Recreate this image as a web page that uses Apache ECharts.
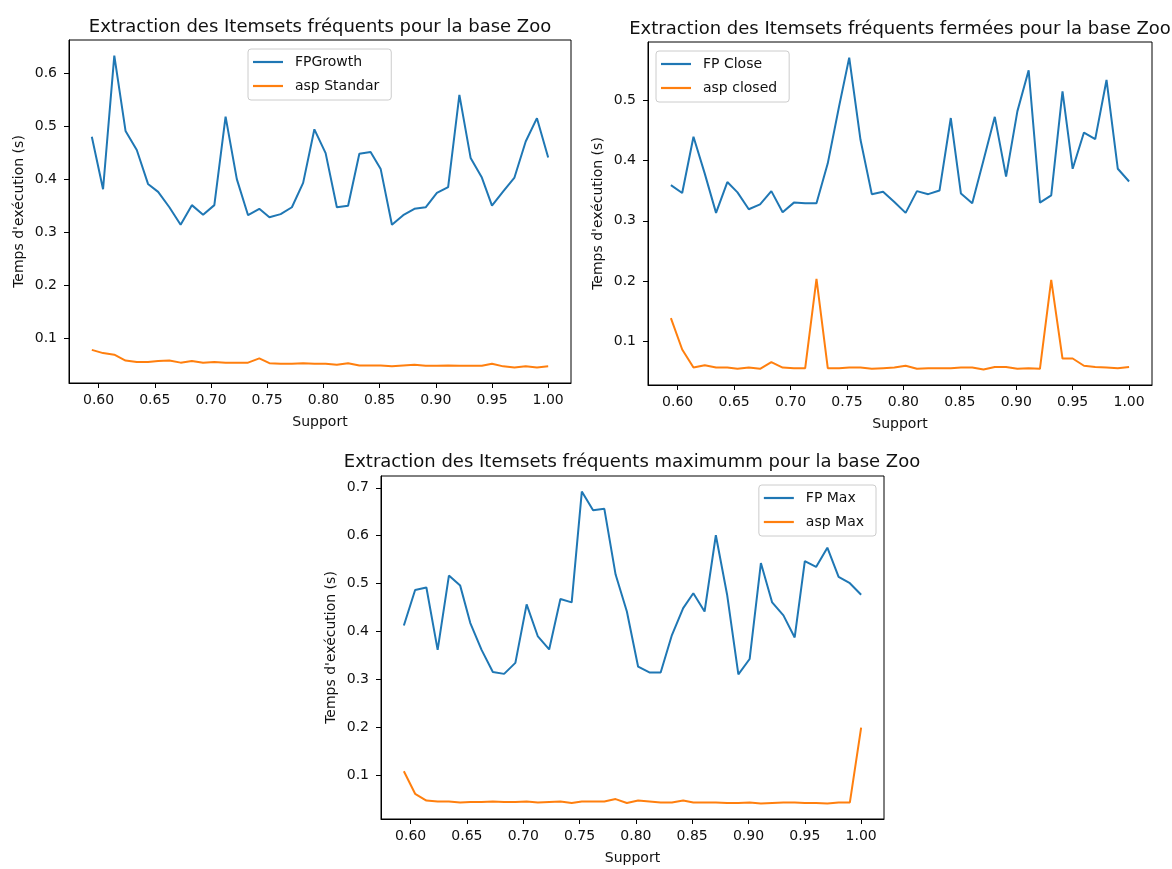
<!DOCTYPE html>
<html>
<head>
<meta charset="utf-8">
<script src="https://cdn.jsdelivr.net/npm/echarts@6/dist/echarts.min.js"></script>
<style>
html,body{margin:0;padding:0;background:#fff;}
#chart{width:1172px;height:869px;}
</style>
</head>
<body>
<div id="chart"></div>
<script>
// ---- Data ----
const support = [0.594, 0.604, 0.614, 0.624, 0.634, 0.644, 0.653, 0.663, 0.673, 0.683,
  0.693, 0.703, 0.713, 0.723, 0.733, 0.743, 0.752, 0.762, 0.772, 0.782,
  0.792, 0.802, 0.812, 0.822, 0.832, 0.842, 0.851, 0.861, 0.871, 0.881,
  0.891, 0.901, 0.911, 0.921, 0.931, 0.941, 0.950, 0.960, 0.970, 0.980,
  0.990, 1.000];

const fpGrowth = [0.480, 0.381, 0.633, 0.491, 0.455, 0.391, 0.376, 0.347, 0.314, 0.351,
  0.333, 0.351, 0.518, 0.400, 0.332, 0.344, 0.328, 0.334, 0.347, 0.393,
  0.494, 0.449, 0.347, 0.350, 0.448, 0.451, 0.419, 0.314, 0.332, 0.344,
  0.347, 0.374, 0.385, 0.559, 0.440, 0.403, 0.350, 0.377, 0.403, 0.471,
  0.515, 0.441];
const aspStandar = [0.078, 0.072, 0.069, 0.058, 0.055, 0.055, 0.057, 0.058, 0.054, 0.057,
  0.054, 0.055, 0.054, 0.054, 0.054, 0.062, 0.053, 0.052, 0.052, 0.053,
  0.052, 0.052, 0.050, 0.053, 0.0485, 0.0485, 0.0485, 0.047, 0.0485, 0.050,
  0.048, 0.048, 0.0485, 0.048, 0.048, 0.048, 0.052, 0.047, 0.045, 0.047,
  0.045, 0.047];

const fpClose = [0.359, 0.346, 0.439, 0.378, 0.313, 0.364, 0.347, 0.319, 0.327, 0.349,
  0.314, 0.330, 0.329, 0.329, 0.395, 0.489, 0.570, 0.434, 0.344, 0.348,
  0.331, 0.313, 0.349, 0.344, 0.350, 0.470, 0.345, 0.329, 0.400, 0.472,
  0.373, 0.481, 0.549, 0.330, 0.342, 0.514, 0.386, 0.446, 0.435, 0.533,
  0.386, 0.365];
const aspClosed = [0.139, 0.087, 0.057, 0.061, 0.057, 0.057, 0.055, 0.057, 0.055, 0.066,
  0.057, 0.056, 0.056, 0.204, 0.056, 0.056, 0.057, 0.057, 0.055, 0.056,
  0.057, 0.060, 0.055, 0.056, 0.056, 0.056, 0.057, 0.057, 0.054, 0.058,
  0.058, 0.055, 0.056, 0.055, 0.202, 0.072, 0.072, 0.060, 0.058, 0.057,
  0.056, 0.058];

const fpMax = [0.413, 0.487, 0.492, 0.362, 0.517, 0.496, 0.418, 0.362, 0.316, 0.312,
  0.335, 0.457, 0.390, 0.363, 0.468, 0.461, 0.692, 0.653, 0.656, 0.519,
  0.442, 0.327, 0.315, 0.315, 0.393, 0.449, 0.480, 0.442, 0.601, 0.477,
  0.311, 0.343, 0.543, 0.461, 0.434, 0.388, 0.547, 0.535, 0.575, 0.514,
  0.501, 0.477];
const aspMax = [0.109, 0.062, 0.048, 0.046, 0.046, 0.044, 0.045, 0.045, 0.046, 0.045,
  0.045, 0.046, 0.044, 0.045, 0.046, 0.043, 0.046, 0.046, 0.046, 0.051,
  0.043, 0.048, 0.046, 0.044, 0.044, 0.048, 0.044, 0.044, 0.044, 0.043,
  0.043, 0.044, 0.042, 0.043, 0.044, 0.044, 0.043, 0.043, 0.042, 0.044,
  0.044, 0.200];

const xTicks = [0.60, 0.65, 0.70, 0.75, 0.80, 0.85, 0.90, 0.95, 1.00];
const yTicks1 = [0.1, 0.2, 0.3, 0.4, 0.5, 0.6];
const yTicks2 = [0.1, 0.2, 0.3, 0.4, 0.5];
const yTicks3 = [0.1, 0.2, 0.3, 0.4, 0.5, 0.6, 0.7];

const titles = [
  'Extraction des Itemsets fréquents pour la base Zoo',
  'Extraction des Itemsets fréquents fermées pour la base Zoo',
  'Extraction des Itemsets fréquents maximumm pour la base Zoo'
];
const names = [['FPGrowth', 'asp Standar'], ['FP Close', 'asp closed'], ['FP Max', 'asp Max']];

// ---- Build chart ----
const FONT = 'DejaVu Sans';
const TXT = '#111';
const BLUE = '#1f77b4', ORANGE = '#ff7f0e';

function pad(arrs) {
  let lo = Infinity, hi = -Infinity;
  arrs.forEach(a => a.forEach(v => { lo = Math.min(lo, v); hi = Math.max(hi, v); }));
  const m = (hi - lo) * 0.05;
  return [lo - m, hi + m];
}
const xr = pad([support]);
const yr = [pad([fpGrowth, aspStandar]), pad([fpClose, aspClosed]), pad([fpMax, aspMax])];
const yTicks = [yTicks1, yTicks2, yTicks3];

const grids = [
  {left: 69, top: 40, width: 502, height: 343},
  {left: 648, top: 42, width: 504, height: 343},
  {left: 381, top: 476, width: 503, height: 343}
];

const option = {
  animation: false,
  backgroundColor: '#fff',
  textStyle: {fontFamily: FONT},
  title: [
    {text: titles[0], left: 320, top: 18, textAlign: 'center'},
    {text: titles[1], left: 900, top: 20, textAlign: 'center'},
    {text: titles[2], left: 632, top: 453, textAlign: 'center'}
  ].map(t => Object.assign(t, {padding: 0, textStyle: {fontFamily: FONT, fontSize: 18, fontWeight: 'normal', color: TXT}})),
  grid: grids.map(g => Object.assign({show: true, borderColor: '#000', borderWidth: 1, containLabel: false}, g)),
  xAxis: [0, 1, 2].map(i => ({
    type: 'value', gridIndex: i, min: xr[0], max: xr[1],
    name: 'Support', nameLocation: 'middle', nameGap: 32,
    nameTextStyle: {fontFamily: FONT, fontSize: 14, color: TXT},
    axisLine: {show: true, lineStyle: {color: '#000', width: 1}},
    axisTick: {show: true, length: 5, lineStyle: {color: '#000'}, customValues: xTicks},
    axisLabel: {fontFamily: FONT, fontSize: 14, color: TXT, margin: 10, customValues: xTicks,
      formatter: v => v.toFixed(2)},
    splitLine: {show: false}
  })),
  yAxis: [0, 1, 2].map(i => ({
    type: 'value', gridIndex: i, min: yr[i][0], max: yr[i][1],
    name: "Temps d'exécution (s)", nameLocation: 'middle', nameGap: 43,
    nameTextStyle: {fontFamily: FONT, fontSize: 14, color: TXT},
    axisLine: {show: true, lineStyle: {color: '#000', width: 1}},
    axisTick: {show: true, length: 5, lineStyle: {color: '#000'}, customValues: yTicks[i]},
    axisLabel: {fontFamily: FONT, fontSize: 14, color: TXT, margin: 12, customValues: yTicks[i],
      formatter: v => String(+v.toFixed(1))},
    splitLine: {show: false}
  })),
  legend: [
    {left: 248, top: 49},
    {left: 656, top: 51},
    {right: 296, top: 485}
  ].map((l, i) => Object.assign(l, {
    data: names[i].map(n => ({name: n, icon: 'rect'})), orient: 'vertical',
    itemWidth: 30, itemHeight: 2.2, itemGap: 8,
    padding: [5, 12, 6, 5],
    backgroundColor: 'rgba(255,255,255,0.8)',
    borderColor: '#cccccc', borderWidth: 1, borderRadius: 3,
    textStyle: {fontFamily: FONT, fontSize: 14, color: TXT, lineHeight: 16, padding: [0, 0, 0, 7]}
  })),
  series: [
    [fpGrowth, 0, 0, BLUE], [aspStandar, 0, 1, ORANGE],
    [fpClose, 1, 0, BLUE], [aspClosed, 1, 1, ORANGE],
    [fpMax, 2, 0, BLUE], [aspMax, 2, 1, ORANGE]
  ].map(([vals, gi, si, col]) => ({
    type: 'line', name: names[gi][si], xAxisIndex: gi, yAxisIndex: gi,
    data: support.map((x, k) => [x, vals[k]]),
    symbol: 'none', smooth: false,
    lineStyle: {color: col, width: 2}, itemStyle: {color: col},
    emphasis: {disabled: true}
  }))
};

const chart = echarts.init(document.getElementById('chart'), null, {renderer: 'canvas'});
chart.setOption(option);
</script>
</body>
</html>
